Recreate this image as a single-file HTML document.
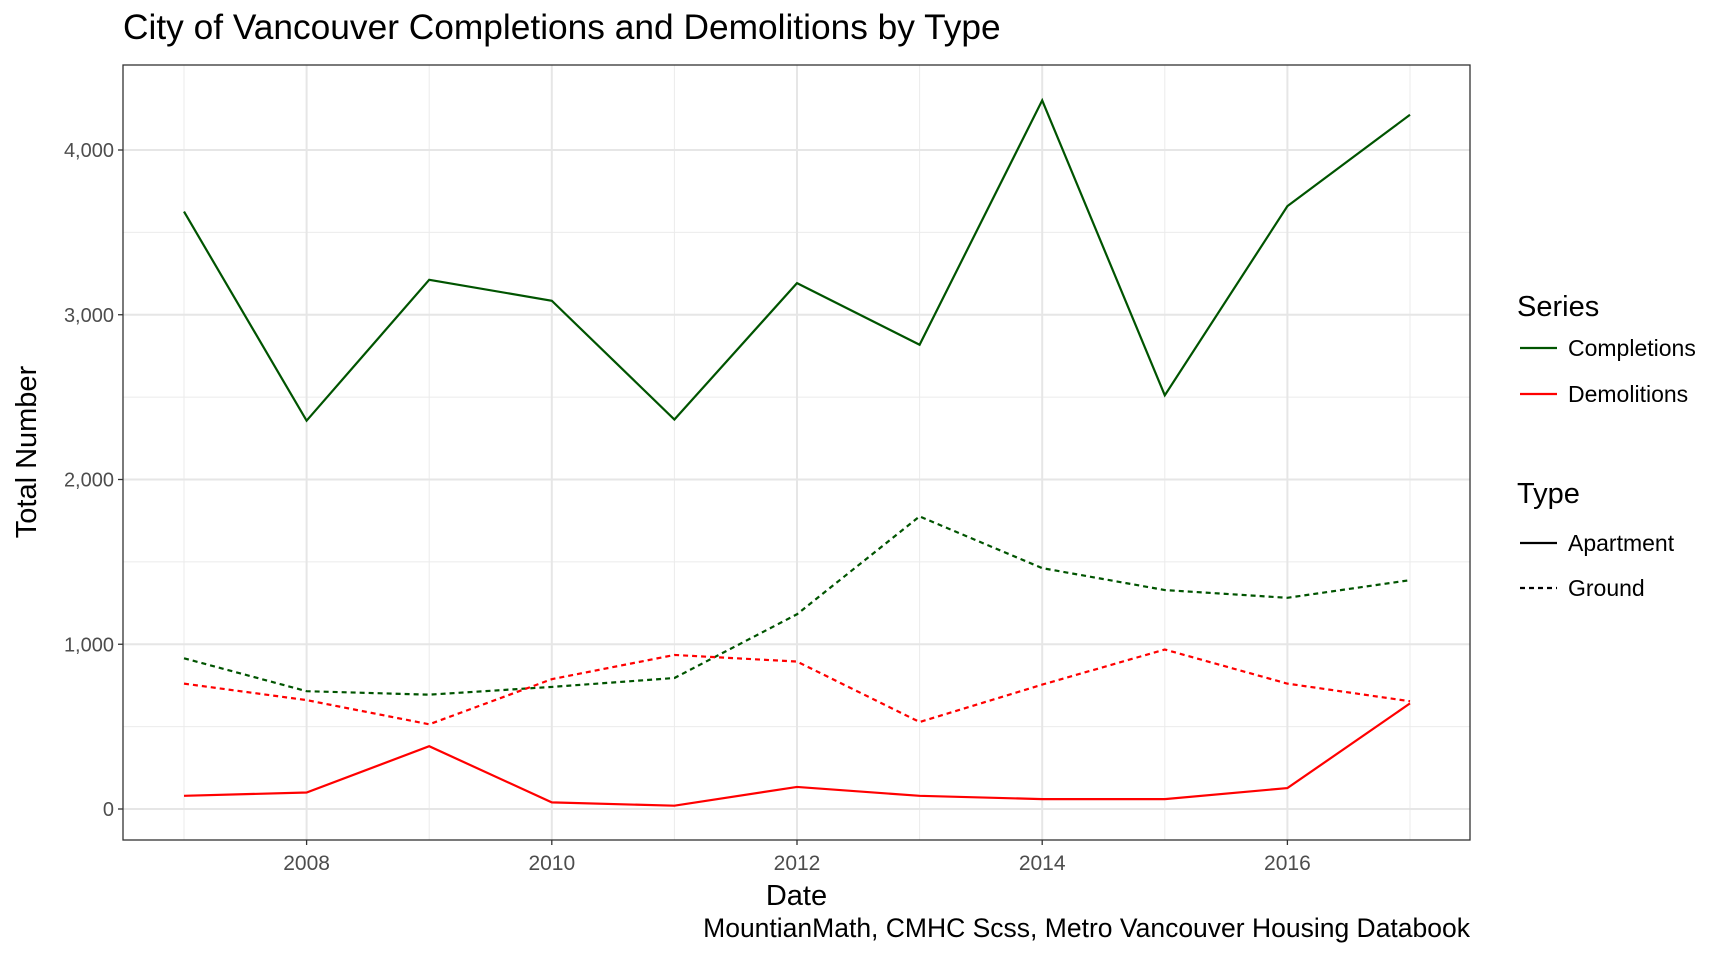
<!DOCTYPE html>
<html><head><meta charset="utf-8"><style>
body{margin:0;background:#fff;}
svg{display:block;font-family:"Liberation Sans",Arial,sans-serif;}
</style></head><body>
<svg id="chart" width="1728" height="960"></svg>
<script>
const years=[2007,2008,2009,2010,2011,2012,2013,2014,2015,2016,2017];
const complApt=[3626,2357,3212,3085,2364,3192,2818,4301,2511,3659,4214];
const complGround=[915,715,694,741,795,1182,1776,1462,1329,1282,1389];
const demoApt=[80,100,381,40,20,134,80,60,60,127,641];
const demoGround=[761,661,514,788,935,895,528,755,968,761,654];
const yTicks=[0,1000,2000,3000,4000];
const yTickLabels=["0","1,000","2,000","3,000","4,000"];
const xTicks=[2008,2010,2012,2014,2016];
const xMinor=[2007,2009,2011,2013,2015,2017];
const yMinor=[500,1500,2500,3500];

const NS="http://www.w3.org/2000/svg";
const svg=document.getElementById('chart');
const L=123,R=1470,T=65,B=840;
const x=v=>184+(v-2007)*122.6;
const y=v=>809-v*0.16475;
function el(t,a,p){const e=document.createElementNS(NS,t);for(const k in a)e.setAttribute(k,a[k]);(p||svg).appendChild(e);return e;}
function txt(s,a){const e=el('text',a);e.textContent=s;return e;}

const title=txt("City of Vancouver Completions and Demolitions by Type",{x:123,y:39,'font-size':35.3,fill:'#000'});



const grid=el('g',{});


yMinor.forEach(v=>el('line',{x1:L,x2:R,y1:y(v),y2:y(v),stroke:'#ebebeb','stroke-width':1},grid));
xMinor.forEach(v=>el('line',{x1:x(v),x2:x(v),y1:T,y2:B,stroke:'#ebebeb','stroke-width':1},grid));
yTicks.forEach(v=>el('line',{x1:L,x2:R,y1:y(v),y2:y(v),stroke:'#e6e6e6','stroke-width':2},grid));
xTicks.forEach(v=>el('line',{x1:x(v),x2:x(v),y1:T,y2:B,stroke:'#e6e6e6','stroke-width':2},grid));

function series(vals,color,dash,name){
  const p=el('polyline',{points:vals.map((v,i)=>x(years[i])+','+y(v)).join(' '),fill:'none',stroke:color,'stroke-width':2.2,'stroke-dasharray':dash?'5,4':'none'});
  
  
}
series(complGround,'#005400',true,'completions-ground-line');
series(demoGround,'#ff0000',true,'demolitions-ground-line');
series(complApt,'#005400',false,'completions-apartment-line');
series(demoApt,'#ff0000',false,'demolitions-apartment-line');

const frame=el('rect',{x:L,y:T,width:R-L,height:B-T,fill:'none',stroke:'#333','stroke-width':1.3});



yTicks.forEach((v,i)=>{
  el('line',{x1:L-5,x2:L,y1:y(v),y2:y(v),stroke:'#333','stroke-width':1.3});
  const t=txt(yTickLabels[i],{x:L-9,y:y(v)+7,'text-anchor':'end','font-size':20,fill:'#4d4d4d'});
  
  
});
xTicks.forEach(v=>{
  el('line',{x1:x(v),x2:x(v),y1:B,y2:B+5,stroke:'#333','stroke-width':1.3});
  const t=txt(String(v),{x:x(v),y:870,'text-anchor':'middle','font-size':21,fill:'#4d4d4d'});
  
  
});
const xt=txt("Date",{x:(L+R)/2,y:905,'text-anchor':'middle','font-size':29,fill:'#000'});


const yt=txt("Total Number",{x:0,y:0,'text-anchor':'middle','font-size':29,fill:'#000',transform:'translate(36,452) rotate(-90)'});


const cap=txt("MountianMath, CMHC Scss, Metro Vancouver Housing Databook",{x:R,y:937,'text-anchor':'end','font-size':26.5,fill:'#000'});



const lg=el('g',{});


function ltxt(s,xx,yy,fs,p){const e=el('text',{x:xx,y:yy,'font-size':fs,fill:'#000'},p);e.textContent=s;return e;}
ltxt("Series",1517,316,29,lg);
ltxt("Type",1517,503,29,lg);
const items=[["Completions",'#005400',false,348],["Demolitions",'#ff0000',false,394],["Apartment",'#000',false,543],["Ground",'#000',true,588]];
items.forEach(it=>{
  const g=el('g',{},lg);
  
  
  el('line',{x1:1520,x2:1557,y1:it[3],y2:it[3],stroke:it[1],'stroke-width':2.2,'stroke-dasharray':it[2]?'5,4':'none'},g);
  ltxt(it[0],1568,it[3]+8,23,g);
});
</script>
</body></html>
